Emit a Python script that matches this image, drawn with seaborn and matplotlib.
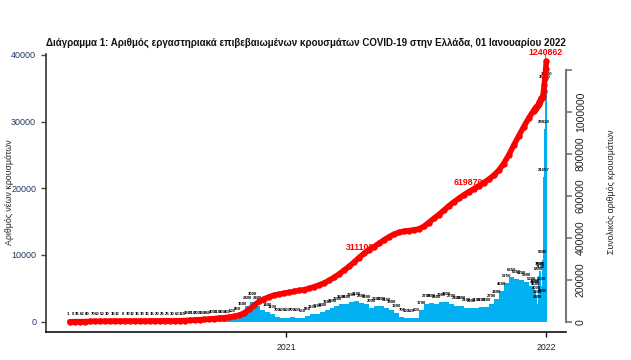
import numpy as np
import pandas as pd
import matplotlib
matplotlib.use("Agg")
import matplotlib.pyplot as plt
import matplotlib.dates as mdates
from matplotlib import font_manager
import seaborn as sns

# ---- data ----
# mean new cases per day, one value per week (weeks start 2020-02-26)
week_start = pd.date_range("2020-02-26", periods=94, freq="7D")
weekly_cases = [1, 9, 35, 60, 80, 70, 60, 50, 30, 15,
                12, 8, 10, 12, 15, 10, 15, 15, 20, 25,
                25, 30, 60, 120, 190, 210, 200, 190, 240, 300,
                310, 300, 400, 500, 850, 1500, 2400, 3000, 2400, 1800,
                1400, 1100, 700, 600, 600, 700, 600, 550, 850, 1100,
                1200, 1400, 1800, 2000, 2300, 2600, 2600, 2900, 3100, 2800,
                2600, 2000, 2300, 2300, 2100, 1800, 1300, 700, 500, 500,
                600, 1700, 2700, 2800, 2600, 2900, 3000, 2700, 2400, 2400,
                2100, 2000, 2100, 2200, 2200, 2700, 3400, 4600, 5750, 6650,
                6350, 6200, 5900, 5300]
# daily new cases for the last days
day_dates = pd.date_range("2021-12-15", "2022-01-01", freq="D")
daily_cases = [4800, 5000, 4600, 4000, 2600, 3300, 6800, 7600, 7100, 7600,
               5300, 3500, 9300, 21657, 28828, 35580, 40560, 36000]

milestone_dates = ["2021-04-15", "2021-09-14", "2022-01-01"]
milestone_labels = ["311100", "619870", "1240862"]

title = ("Διάγραμμα 1: Αριθμός εργαστηριακά επιβεβαιωμένων κρουσμάτων "
         "COVID-19 στην Ελλάδα, 01 Ιανουαρίου 2022")
left_label = "Αριθμός νέων κρουσμάτων"
right_label = "Συνολικός αριθμός κρουσμάτων"

# ---- prepare ----
df = pd.DataFrame({
    "x": np.concatenate([mdates.date2num(week_start), mdates.date2num(day_dates)]),
    "width": [7] * len(weekly_cases) + [1] * len(daily_cases),
    "cases": weekly_cases + daily_cases,
})
df["total"] = (df["cases"] * df["width"]).cumsum()
df["x_end"] = df["x"] + df["width"] - 0.5

sns.set_style("ticks")
names = {f.name for f in font_manager.fontManager.ttflist}
title_font = "Liberation Sans Narrow" if "Liberation Sans Narrow" in names else "Liberation Sans"
plt.rcParams["font.family"] = ["Liberation Sans", "DejaVu Sans"]

fig = plt.figure(figsize=(6.31, 3.6), dpi=100)
ax = fig.add_axes([46 / 631, 28 / 360, 520 / 631, 278 / 360])
ax2 = ax.twinx()

# new cases (bars + small value labels)
ax.bar(df["x"], df["cases"], width=df["width"], align="edge",
       color="#00B0F0", linewidth=0, zorder=2)
for x, w, c in zip(df["x"], df["width"], df["cases"]):
    ax.annotate(f"{int(c)}", (x + w / 2, c), xytext=(0, 5.2),
                textcoords="offset points", ha="center", va="center",
                fontsize=3.1, color="#000000", fontweight="bold", zorder=3)

# cumulative cases
for d, lbl in zip(milestone_dates, milestone_labels):
    ax2.annotate(lbl, (mdates.date2num(pd.Timestamp(d)), int(lbl)),
                 xytext=(0, 6.8), textcoords="offset points",
                 ha="center", va="center", color="red",
                 fontweight="bold", fontsize=6.3, zorder=4,
                 annotation_clip=False)
sns.lineplot(data=df, x="x_end", y="total", ax=ax2, color="red",
             linewidth=4, marker="o", markersize=4.6, markeredgewidth=0,
             zorder=5, clip_on=False)

# ---- axes ----
ax.set_xlim(mdates.date2num(pd.Timestamp("2020-01-30")),
            mdates.date2num(pd.Timestamp("2022-01-29")))
ax.set_ylim(-1545, 40135)
ax2.set_ylim(-49118, 1276585)

ax.set_yticks([0, 10000, 20000, 30000, 40000])
ax.set_yticklabels(["0", "10000", "20000", "30000", "40000"])
ax.set_xticks(mdates.date2num([pd.Timestamp("2021-01-01"), pd.Timestamp("2022-01-01")]))
ax.set_xticklabels(["2021", "2022"])
ax.tick_params(axis="y", left=True, direction="out", length=3.6, width=1,
               color="#444444", labelsize=6.5, labelcolor="#1f3864", pad=3.5)
ax.tick_params(axis="x", bottom=True, direction="out", length=3.6, width=1,
               color="#111111", labelsize=6.3, labelcolor="#222222", pad=4)

ax2.set_yticks([0, 200000, 400000, 600000, 800000, 1000000, 1200000])
ax2.set_yticklabels(["0", "200000", "400000", "600000", "800000", "1000000", ""])
ax2.tick_params(axis="y", right=True, direction="out", length=4, width=1.2,
                color="#777777", labelsize=7.6, labelcolor="#222222", pad=3)
plt.setp(ax2.get_yticklabels(), rotation=90, va="center")

for s in ["top", "right"]:
    ax.spines[s].set_visible(False)
for s in ["top", "left", "bottom"]:
    ax2.spines[s].set_visible(False)
ax.spines["left"].set_color("#333333")
ax.spines["left"].set_linewidth(1.2)
ax.spines["bottom"].set_color("#111111")
ax.spines["bottom"].set_linewidth(1.2)
ax2.spines["right"].set_color("#777777")
ax2.spines["right"].set_linewidth(1.5)
ax2.spines["right"].set_bounds(0, 1200000)

ax.set_xlabel("")
ax.set_ylabel("")
ax2.set_xlabel("")
ax2.set_ylabel("")

fig.text(10 / 631, 1 - 192 / 360, left_label, rotation=90,
         ha="center", va="center", fontsize=6.3, color="#222222")
fig.text(612 / 631, 1 - 192 / 360, right_label, rotation=90,
         ha="center", va="center", fontsize=6.3, color="#222222")
fig.text(306 / 631, 1 - 43 / 360, title, ha="center", va="center",
         fontsize=7.0, fontweight="bold", color="#111111",
         family=[title_font, "DejaVu Sans"])

fig.savefig("out.png", dpi=100)
